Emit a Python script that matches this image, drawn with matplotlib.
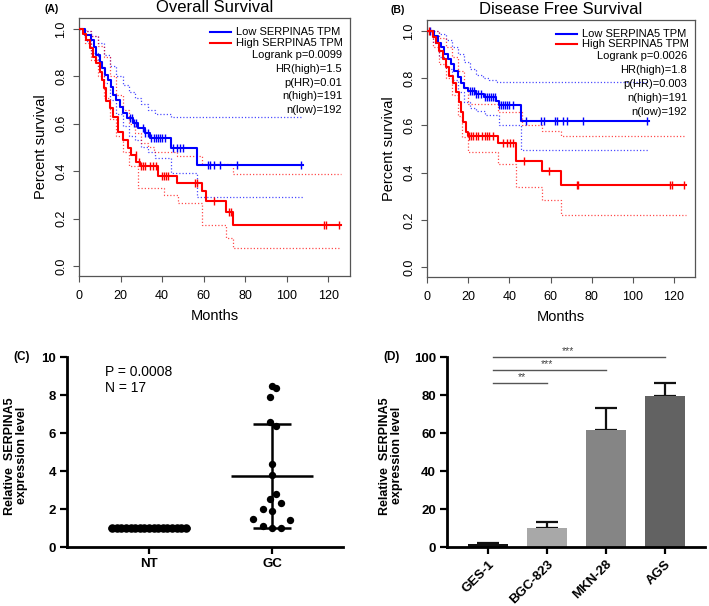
import numpy as np
import matplotlib.pyplot as plt

plt.rcParams['font.family'] = ['Liberation Sans', 'DejaVu Sans']

# ---------------- (A) overall survival : step curves
os_low_t = [0, 2.7, 6, 7.2, 8.3, 10, 11.1, 12.4, 14, 15.2, 16.4, 18, 19.6, 21.2, 23.3, 26, 28.4, 31.6, 34, 44.5, 57]
os_low_s = [1.0, 0.975, 0.954, 0.925, 0.89, 0.86, 0.834, 0.806, 0.785, 0.757, 0.722, 0.70, 0.672, 0.644, 0.623, 0.602, 0.581, 0.56, 0.539, 0.497, 0.426]
os_low_end = 108
os_low_cens = [24.5, 25.5, 26.5, 27.5, 31, 32, 33, 34.5, 36, 37, 38, 39, 40, 41.5, 45.5, 47, 48.5, 50, 62, 63, 65, 68, 76, 107]
os_low_up_t = [0, 3, 6, 9, 12, 15, 18, 21, 24, 27, 30, 33, 36.5, 44.5]
os_low_up_s = [1.0, 0.99, 0.97, 0.94, 0.89, 0.845, 0.80, 0.765, 0.735, 0.71, 0.685, 0.66, 0.643, 0.627]
os_low_lo_t = [0, 3, 6, 9, 12, 15, 18, 21, 24, 27, 30, 33, 36.5, 44.5, 57]
os_low_lo_s = [1.0, 0.95, 0.9, 0.84, 0.77, 0.70, 0.64, 0.59, 0.55, 0.53, 0.50, 0.48, 0.455, 0.392, 0.29]

os_high_t = [0, 2, 3.5, 5.1, 6.7, 8.3, 10, 11.1, 12, 13.2, 14.8, 16.4, 18.8, 21.2, 23.6, 25.2, 27.6, 29.2, 38, 47.4, 59.3, 61.3, 71, 74.2]
os_high_s = [1.0, 0.98, 0.954, 0.918, 0.883, 0.855, 0.82, 0.785, 0.75, 0.694, 0.665, 0.63, 0.567, 0.532, 0.497, 0.468, 0.44, 0.42, 0.38, 0.352, 0.315, 0.275, 0.23, 0.173]
os_high_end = 126
os_high_cens = [27.5, 29, 30, 31, 32, 34, 35.5, 37, 40, 41, 42, 43, 56, 57, 65, 72, 73, 118, 119, 125]
os_high_up_t = [0, 3, 6, 9, 12, 15, 18, 21, 24, 27, 30, 33, 36, 47.4, 59.3, 74.2]
os_high_up_s = [1.0, 0.99, 0.97, 0.93, 0.88, 0.80, 0.72, 0.66, 0.60, 0.56, 0.52, 0.50, 0.48, 0.465, 0.432, 0.387]
os_high_lo_t = [0, 3, 6, 9, 12, 15, 18, 21, 24, 28.5, 41, 47.7, 59.3, 71, 74.2]
os_high_lo_s = [1.0, 0.94, 0.87, 0.80, 0.71, 0.62, 0.55, 0.48, 0.42, 0.328, 0.30, 0.265, 0.173, 0.117, 0.076]
os_stats = ["Logrank p=0.0099", "HR(high)=1.5", "p(HR)=0.01", "n(high)=191", "n(low)=192"]

# ---------------- (B) disease free survival
dfs_low_t = [0, 3.6, 5.2, 6.8, 8.4, 10, 11.6, 13.3, 14.9, 16.5, 18.1, 19.7, 23.8, 27.8, 33.5, 34.8, 45.6]
dfs_low_s = [1.0, 0.979, 0.95, 0.93, 0.9, 0.88, 0.86, 0.83, 0.803, 0.78, 0.76, 0.747, 0.733, 0.719, 0.704, 0.685, 0.62]
dfs_low_end = 108
dfs_low_cens = [1.5, 21, 22, 23, 24, 25, 26, 28, 29, 30, 31, 32, 33, 35, 36, 37, 38, 39, 40, 42, 48, 55.3, 57, 62, 63, 66, 68, 76, 107]
dfs_low_up_t = [0, 3, 6, 9, 12, 15, 18, 21, 24, 27, 30, 34]
dfs_low_up_s = [1.0, 1.0, 0.985, 0.96, 0.93, 0.9, 0.87, 0.84, 0.815, 0.80, 0.79, 0.785]
dfs_low_lo_t = [0, 3, 6, 9, 12, 15, 18, 21, 24, 28, 34.8, 45.6]
dfs_low_lo_s = [1.0, 0.95, 0.89, 0.84, 0.79, 0.74, 0.70, 0.675, 0.66, 0.645, 0.60, 0.494]

dfs_high_t = [0, 2.7, 4.4, 6, 7.6, 9.2, 10.8, 12.5, 14.1, 15.7, 16.5, 17.3, 18.9, 19.7, 34.3, 43.2, 56.1, 65]
dfs_high_s = [1.0, 0.975, 0.95, 0.915, 0.88, 0.845, 0.81, 0.78, 0.74, 0.697, 0.655, 0.613, 0.571, 0.553, 0.525, 0.451, 0.406, 0.349]
dfs_high_end = 126
dfs_high_cens = [1, 20.5, 21.5, 22.5, 24, 25, 26.5, 28, 29, 30, 32, 37, 39, 40.5, 42, 47.2, 59.4, 73, 73.5, 118, 119, 125]
dfs_high_up_t = [0, 3, 6, 9, 12, 15, 18, 20, 34.3, 46, 56.1, 65]
dfs_high_up_s = [1.0, 1.0, 0.97, 0.93, 0.89, 0.83, 0.76, 0.69, 0.655, 0.60, 0.578, 0.553]
dfs_high_lo_t = [0, 3, 6, 9, 12, 15, 17, 19.7, 34.3, 43.2, 56.1, 65]
dfs_high_lo_s = [1.0, 0.93, 0.86, 0.80, 0.73, 0.64, 0.55, 0.487, 0.438, 0.339, 0.286, 0.219]
dfs_stats = ["Logrank p=0.0026", "HR(high)=1.8", "p(HR)=0.003", "n(high)=191", "n(low)=192"]

# ---------------- (C) tissue expression
c_groups = ["NT", "GC"]
nt_vals = [1.0] * 17
gc_vals = [7.89, 8.46, 8.37, 6.6, 6.39, 4.39, 3.8, 2.81, 2.53, 2.32, 2.0, 1.88, 1.47, 1.4, 1.12, 1.0, 1.02]
gc_jit = [-0.04, 0.0, 0.11, -0.04, 0.11, 0.0, 0.0, 0.11, -0.04, 0.23, -0.23, 0.0, -0.46, 0.45, -0.23, 0.0, 0.23]

# ---------------- (D) cell lines
d_lines = ["GES-1", "BGC-823", "MKN-28", "AGS"]
d_vals = [1.5, 10.2, 61.5, 79.6]
d_err = [0.4, 3.2, 11.6, 6.5]
d_cols = ["#111111", "#a8a8a8", "#858585", "#626262"]
sig_pairs = [(0, 1, 86.3, "**"), (0, 2, 93.0, "***"), (0, 3, 100.0, "***")]
sig_star_x = [0.58, 1.0, 1.36]

BLUE, RED = "#0000ff", "#ff0000"


def step_val(t, s, x):
    i = np.searchsorted(t, x, side="right") - 1
    return np.asarray(s)[i]


def km(ax, t, s, end, cens, up, lo, col):
    ax.step(list(t) + [end], list(s) + [s[-1]], where="post", color=col, lw=1.5, zorder=3)
    ax.plot(cens, step_val(t, s, cens), ls="none", marker="|", ms=6, mew=1, color=col, zorder=3)
    for tt, ss in (up, lo):
        ax.step(list(tt) + [end], list(ss) + [ss[-1]], where="post", color=col,
                lw=0.9, ls=(0, (1, 1.6)), alpha=0.7, zorder=2)


def surv_axes(ax, title, xmax, stats):
    ax.set_xlim(0, xmax)
    ax.set_ylim(-0.042, 1.046)
    ax.set_xticks(range(0, 121, 20))
    yt = np.arange(0, 1.01, 0.2)
    ax.set_yticks(yt)
    ax.set_yticklabels(["%.1f" % v for v in yt], rotation=90, va="center")
    ax.tick_params(direction="out", length=4.5, width=0.8, color="#555555", labelsize=9, pad=4)
    ax.tick_params(axis="x", pad=5.5)
    for sp in ax.spines.values():
        sp.set_color("#555555")
        sp.set_linewidth(0.9)
    ax.set_xlabel("Months", fontsize=10.5, labelpad=5)
    ax.set_ylabel("Percent survival", fontsize=10.5, labelpad=5)
    ax.set_title(title, fontsize=12, pad=4)
    ax.plot([0.483, 0.561], [0.946, 0.946], color=BLUE, lw=1.5, transform=ax.transAxes)
    ax.plot([0.483, 0.561], [0.905, 0.905], color=RED, lw=1.5, transform=ax.transAxes)
    ax.text(0.579, 0.946, "Low SERPINA5 TPM", fontsize=8, va="center", transform=ax.transAxes)
    ax.text(0.579, 0.905, "High SERPINA5 TPM", fontsize=8, va="center", transform=ax.transAxes)
    for k, s in enumerate(stats):
        ax.text(0.971, 0.858 - 0.054 * k, s, fontsize=8, ha="right", va="center", transform=ax.transAxes)


fig = plt.figure(figsize=(7.09, 6.06), dpi=100)
W, H = 709, 606
axA = fig.add_axes([79 / W, 1 - 276 / H, 271 / W, 258 / H])
axB = fig.add_axes([427 / W, 1 - 277 / H, 268 / W, 257 / H])
axC = fig.add_axes([67 / W, 1 - 547 / H, 276 / W, 190 / H])
axD = fig.add_axes([447 / W, 1 - 547 / H, 258 / W, 190 / H])

km(axA, os_low_t, os_low_s, os_low_end, os_low_cens, (os_low_up_t, os_low_up_s), (os_low_lo_t, os_low_lo_s), BLUE)
km(axA, os_high_t, os_high_s, os_high_end, os_high_cens, (os_high_up_t, os_high_up_s), (os_high_lo_t, os_high_lo_s), RED)
surv_axes(axA, "Overall Survival", 130.5, os_stats)

km(axB, dfs_low_t, dfs_low_s, dfs_low_end, dfs_low_cens, (dfs_low_up_t, dfs_low_up_s), (dfs_low_lo_t, dfs_low_lo_s), BLUE)
km(axB, dfs_high_t, dfs_high_s, dfs_high_end, dfs_high_cens, (dfs_high_up_t, dfs_high_up_s), (dfs_high_lo_t, dfs_high_lo_s), RED)
surv_axes(axB, "Disease Free Survival", 130.2, dfs_stats)


def prism_axes(ax):
    for sp in ("top", "right"):
        ax.spines[sp].set_visible(False)
    for sp in ("left", "bottom"):
        ax.spines[sp].set_linewidth(2)
    ax.tick_params(direction="out", length=5, width=1.6, labelsize=9.5, pad=3)
    for lb in ax.get_xticklabels() + ax.get_yticklabels():
        lb.set_fontweight("bold")
    ax.set_ylabel("Relative  SERPINA5\nexpression level", fontsize=9, fontweight="bold", linespacing=1.0)


# (C)
nt_x = np.linspace(-0.3, 0.3, len(nt_vals))
axC.scatter(nt_x, nt_vals, s=38, color="black", lw=0, zorder=3, clip_on=False)
axC.scatter(1 + np.array(gc_jit) * 0.33, gc_vals, s=28, color="black", lw=0, zorder=3)
for i, vals in enumerate([nt_vals, gc_vals]):
    m, sd = np.mean(vals), np.std(vals, ddof=1)
    axC.hlines(m, i - 0.33, i + 0.33, color="black", lw=1.8)
    axC.errorbar(i, m, yerr=sd, color="black", lw=1.8, capsize=13.5, capthick=1.8)
axC.set_xlim(-0.667, 1.577)
axC.set_ylim(0, 10)
axC.set_xticks([0, 1])
axC.set_xticklabels(c_groups)
axC.set_yticks(range(0, 11, 2))
prism_axes(axC)
axC.yaxis.set_label_coords(-0.14, 0.48)
axC.text(0.138, 0.92, "P = 0.0008", fontsize=10, transform=axC.transAxes, va="center")
axC.text(0.138, 0.835, "N = 17", fontsize=10, transform=axC.transAxes, va="center")

# (D)
xd = np.arange(len(d_lines))
axD.bar(xd, d_vals, width=0.68, color=d_cols, zorder=2)
axD.errorbar(xd, d_vals, yerr=[np.zeros(len(d_err)), d_err], fmt="none", ecolor="#111111",
             elinewidth=1.6, capsize=8, capthick=1.6, zorder=1)
for (a, b, y, star), sx in zip(sig_pairs, sig_star_x):
    axD.plot([a + 0.08, b], [y, y], color="#555555", lw=1.0, clip_on=False)
    axD.text(sx, y + 0.6, star, fontsize=7.5, color="#444444", ha="center", va="bottom")
axD.set_xlim(-0.695, 3.68)
axD.set_ylim(0, 100)
axD.set_xticks(xd)
axD.set_xticklabels(d_lines, rotation=45, ha="right", rotation_mode="anchor")
axD.set_yticks(range(0, 101, 20))
prism_axes(axD)
axD.yaxis.set_label_coords(-0.17, 0.48)

fig.text(52 / W, 1 - 9 / H, "(A)", fontsize=7.5, fontweight="bold", ha="center", va="center")
fig.text(398 / W, 1 - 10 / H, "(B)", fontsize=7.5, fontweight="bold", ha="center", va="center")
fig.text(22 / W, 1 - 357 / H, "(C)", fontsize=8.5, fontweight="bold", ha="center", va="center")
fig.text(392 / W, 1 - 357 / H, "(D)", fontsize=8.5, fontweight="bold", ha="center", va="center")

fig.savefig("out.png", dpi=100)
